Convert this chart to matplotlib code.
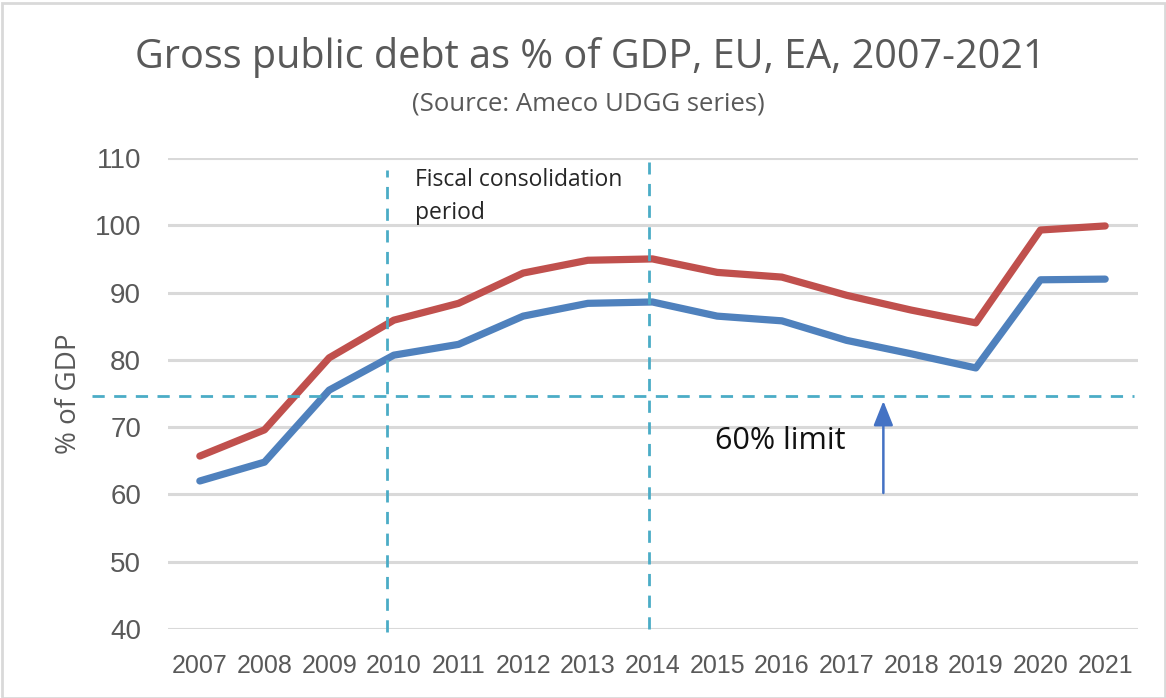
import matplotlib
matplotlib.use("Agg")
import matplotlib.pyplot as plt
from matplotlib.patches import Rectangle

years = [2007, 2008, 2009, 2010, 2011, 2012, 2013, 2014, 2015, 2016, 2017, 2018, 2019, 2020, 2021]
ea_debt = [65.7, 69.6, 80.3, 85.9, 88.4, 92.9, 94.8, 95.0, 93.0, 92.3, 89.6, 87.4, 85.5, 99.3, 99.9]
eu_debt = [62.0, 64.8, 75.5, 80.7, 82.3, 86.5, 88.4, 88.6, 86.5, 85.8, 82.9, 80.9, 78.8, 91.9, 92.0]
yticks = [40, 50, 60, 70, 80, 90, 100, 110]
period_start, period_end = 2010, 2014
limit_line = 74.6

W, H = 1166, 698
fig = plt.figure(figsize=(W / 100, H / 100), dpi=100)
fig.patch.set_facecolor("white")
fig.patches.append(Rectangle((2 / W, 0), 1 - 3 / W, 1 - 3 / H, transform=fig.transFigure,
                             fill=False, edgecolor="#D9D9D9", linewidth=2))

ax = fig.add_axes([167.5 / W, 1 - 629 / H, (1137.5 - 167.5) / W, (629 - 158) / H])
ax.set_xlim(2006.5, 2021.5)
ax.set_ylim(40, 110)
for s in ax.spines.values():
    s.set_visible(False)
ax.set_yticks(yticks)
ax.set_xticks(years)
ax.yaxis.grid(True, color="#D9D9D9", linewidth=2.2)
ax.set_axisbelow(True)
ax.tick_params(length=0)
ax.tick_params(axis="y", pad=19, labelcolor="#595959", labelsize=20)
ax.tick_params(axis="x", pad=18, labelcolor="#595959", labelsize=18)
for lab in ax.get_yticklabels():
    lab.set_family(["Liberation Sans", "DejaVu Sans"])
for lab in ax.get_xticklabels():
    lab.set_family(["Liberation Sans", "DejaVu Sans"])

ax.set_ylabel("% of GDP", fontsize=20, color="#595959", labelpad=8,
              family=["Open Sans", "DejaVu Sans"])

ax.plot(years, ea_debt, color="#C0504D", linewidth=5.2, solid_capstyle="round", solid_joinstyle="round", zorder=4)
ax.plot(years, eu_debt, color="#4F81BD", linewidth=5.2, solid_capstyle="round", solid_joinstyle="round", zorder=4)

dash = dict(color="#4BACC6", linewidth=2.0, dashes=(4.4, 3.4), zorder=5, clip_on=False)
ax.plot([period_start - 0.1, period_start - 0.1], [39.5, 108.2], **dash)
ax.plot([period_end - 0.06, period_end - 0.06], [40, 109.4], **dash)
ax.plot([2005.33, 2021.44], [limit_line, limit_line], **dash)

ax.text(2010.33, 104.3, "Fiscal consolidation\nperiod", fontsize=16.5, color="#262626",
        ha="left", va="center", linespacing=1.5, family=["Open Sans", "DejaVu Sans"])
ax.text(2014.97, 67.9, "60% limit", fontsize=22, color="#111111", ha="left", va="center",
        family=["Open Sans", "DejaVu Sans"])
ax.annotate("", xy=(2017.57, limit_line - 0.3), xytext=(2017.57, 59.8),
            arrowprops=dict(arrowstyle="-|>,head_length=1.5,head_width=0.6",
                            color="#4472C4", linewidth=1.8), zorder=6)

fig.text(590 / W, 1 - 58 / H, "Gross public debt as % of GDP, EU, EA, 2007-2021", fontsize=28.5,
         color="#595959", ha="center", va="center", family=["Open Sans", "DejaVu Sans"])
fig.text(588 / W, 1 - 104 / H, "(Source: Ameco UDGG series)", fontsize=18.5,
         color="#595959", ha="center", va="center", family=["Open Sans", "DejaVu Sans"])

fig.savefig("out.png", dpi=100)
